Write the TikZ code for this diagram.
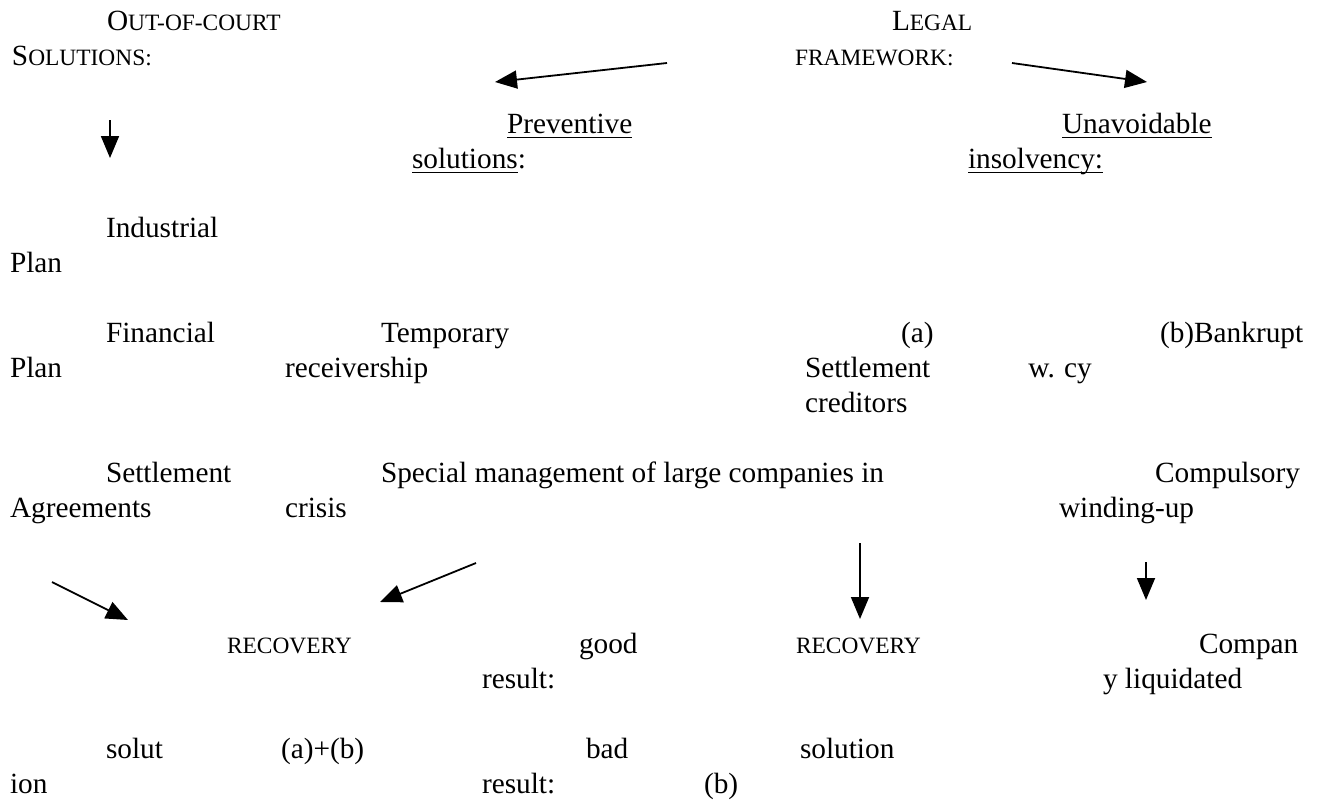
\documentclass[tikz,border=0pt]{standalone}
\usepackage{fontspec}
\setmainfont{Liberation Serif}
\usetikzlibrary{arrows.meta}
\newcommand\fsN{\fontsize{29.3pt}{35pt}\selectfont}
\newcommand\fsS{\fontsize{23.4pt}{28pt}\selectfont}
\begin{document}
\begin{tikzpicture}[x=1pt,y=-1pt,
  txt/.style={anchor=base west,inner sep=0pt,outer sep=0pt,font=\fsN},
  txtr/.style={txt,anchor=base east},
  arr/.style={line width=1.8pt,-{Triangle[length=22pt,width=18pt]}},
  ul/.style={line width=1.7pt}]
\useasboundingbox[fill=white] (0,0) rectangle (1317,801);
% top
\node[txt] (oc) at (107,30) {O{\fsS UT-OF-COURT}};
\node[txt] (sol) at (12,65) {S{\fsS OLUTIONS:}};
\node[txt] (lg) at (892,30) {L{\fsS EGAL}};
\node[txt] (fw) at (795,65) {\fsS FRAMEWORK:};
\node[txt] (pv) at (507,133) {Preventive};
\node[txt] (ps) at (412,168) {solutions};
\node[txt] (pc) at (ps.base east) {:};
\node[txt] (ua) at (1062,133) {Unavoidable};
\node[txt] (ui) at (968,168) {insolvency:};
% underlines
\draw[ul] ([yshift=-4.5pt]pv.base west) -- ([yshift=-4.5pt]pv.base east);
\draw[ul] ([yshift=-4.5pt]ps.base west) -- ([yshift=-4.5pt]ps.base east);
\draw[ul] ([yshift=-4.5pt]ua.base west) -- ([yshift=-4.5pt]ua.base east);
\draw[ul] ([yshift=-4.5pt]ui.base west) -- ([yshift=-4.5pt]ui.base east);
% middle
\node[txt] (ind1) at (106,237) {Industrial};
\node[txt] (ind2) at (10,272) {Plan};
\node[txt] (fin1) at (106,342) {Financial};
\node[txt] (fin2) at (10,377) {Plan};
\node[txt] (tr1) at (381,342) {Temporary};
\node[txt] (tr2) at (285,377) {receivership};
\node[txt] (sa1) at (901,342) {(a)};
\node[txt] (sa2) at (805,377) {Settlement};
\node[txtr] (sa3) at (1055,377) {w.};
\node[txt] (sa4) at (805,412) {creditors};
\node[txt] (bk1) at (1160,342) {(b)Bankrupt};
\node[txt] (bk2) at (1064,377) {cy};
\node[txt] (se1) at (106,482) {Settlement};
\node[txt] (se2) at (10,517) {Agreements};
\node[txt] (sm1) at (381,482) {Special management of large companies in};
\node[txt] (sm2) at (285,517) {crisis};
\node[txtr] (cw1) at (1300,482) {Compulsory};
\node[txt] (cw2) at (1059,517) {winding-up};
% bottom
\node[txt] (rc1) at (227,653) {\fsS RECOVERY};
\node[txt] (gr1) at (579,653) {good};
\node[txt] (gr2) at (482,688) {result:};
\node[txt] (rc2) at (796,653) {\fsS RECOVERY};
\node[txt] (cl1) at (1199,653) {Compan};
\node[txt] (cl2) at (1103,688) {y liquidated};
\node[txt] (so1) at (106,758) {solut};
\node[txt] (so2) at (10,793) {ion};
\node[txt] (ab) at (281,758) {(a)+(b)};
\node[txt] (br1) at (586,758) {bad};
\node[txt] (br2) at (482,793) {result:};
\node[txt] (sb1) at (800,758) {solution};
\node[txt] (sb2) at (704,793) {(b)};
% arrows
\coordinate (a1s) at (667,63);   \coordinate (a1e) at (495,82);
\coordinate (a2s) at (1012,63);  \coordinate (a2e) at (1147,82);
\coordinate (d1s) at (110,120);  \coordinate (d1e) at (110,158);
\coordinate (l1s) at (52,582);   \coordinate (l1e) at (128,620);
\coordinate (l2s) at (476,563);  \coordinate (l2e) at (380,602);
\coordinate (c1s) at (860,543);  \coordinate (c1e) at (860,619);
\coordinate (r1s) at (1146,562); \coordinate (r1e) at (1146,600);
\draw[arr] (a1s) -- (a1e);
\draw[arr] (a2s) -- (a2e);
\draw[arr] (d1s) -- (d1e);
\draw[arr] (l1s) -- (l1e);
\draw[arr] (l2s) -- (l2e);
\draw[arr] (c1s) -- (c1e);
\draw[arr] (r1s) -- (r1e);
\end{tikzpicture}
\end{document}
